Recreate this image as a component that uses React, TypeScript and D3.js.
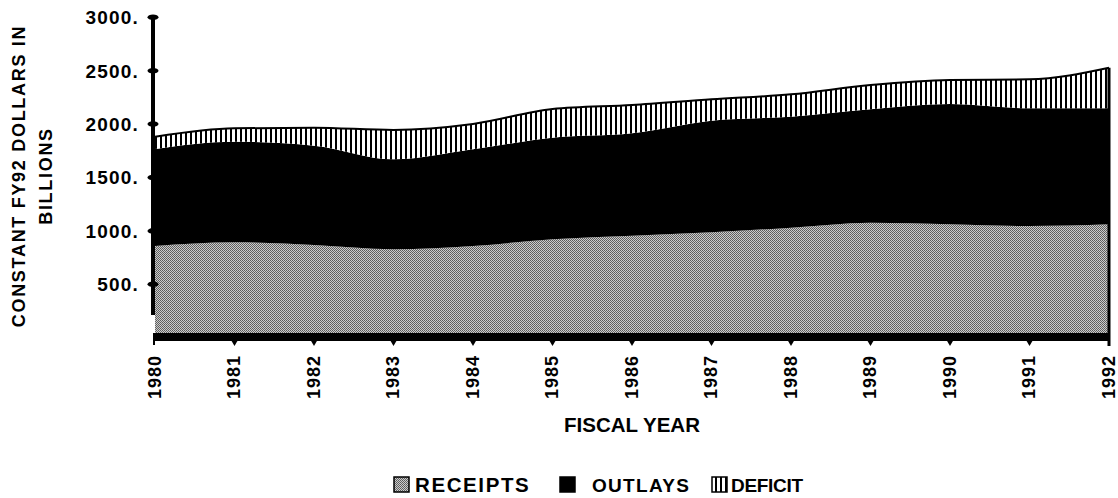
import React from 'react';
import * as d3 from 'd3';

const years = [1980, 1981, 1982, 1983, 1984, 1985, 1986, 1987, 1988, 1989, 1990, 1991, 1992];
const receipts = [859, 893, 868, 828, 859, 921, 955, 987, 1030, 1077, 1062, 1046, 1062];
const outlays = [908, 942, 930, 842, 905, 952, 959, 1045, 1039, 1062, 1126, 1102, 1086];
const deficit = [115, 126, 168, 275, 237, 268, 265, 200, 210, 227, 225, 271, 380];
const yTicks = [3000, 2500, 2000, 1500, 1000, 500];
const seriesKeys = ['receipts', 'outlays', 'deficit'];
const legendLabels = ['RECEIPTS', 'OUTLAYS', 'DEFICIT'];

const W = 1118;
const H = 498;
const FONT = "'Liberation Sans', Arial, Helvetica, sans-serif";

export default function App() {
  const x = d3.scaleLinear().domain([1980, 1992]).range([155, 1109]);
  const y = d3.scaleLinear().domain([0, 3000]).range([337.7, 17.3]);

  const table = years.map((yr, i) => ({
    year: yr,
    receipts: receipts[i],
    outlays: outlays[i],
    deficit: deficit[i],
  }));
  const stacked = d3.stack<any>().keys(seriesKeys)(table);

  const area = d3
    .area<any>()
    .x((d) => x(d.data.year))
    .y0((d) => y(d[0]))
    .y1((d) => y(d[1]))
    .curve(d3.curveMonotoneX);

  const topLine = d3
    .line<any>()
    .x((d) => x(d.data.year))
    .y((d) => y(d[1]))
    .curve(d3.curveMonotoneX);

  const fills = ['url(#recPat)', '#000', 'url(#defPat)'];
  const lastTop = y(stacked[2][stacked[2].length - 1][1]);

  const legendX = [394, 560, 712];
  const legendTextX = [415, 592, 731];
  const legendSpacing = [1.6, 1.3, -0.3];
  const legendSize = [20.5, 19, 19];

  return (
    <svg
      width={W}
      height={H}
      style={{ position: 'absolute', left: 0, top: 0, display: 'block', background: '#fff' }}
    >
      <defs>
        <pattern id="recPat" width="2" height="2" patternUnits="userSpaceOnUse">
          <rect width="2" height="2" fill="#cccccc" />
          <rect x="0" y="0" width="1" height="1" fill="#5a5a5a" />
          <rect x="1" y="1" width="1" height="1" fill="#666666" />
        </pattern>
        <pattern id="defPat" width="5" height="10" patternUnits="userSpaceOnUse">
          <rect width="5" height="10" fill="#fff" />
          <rect x="0" y="0" width="2" height="10" fill="#000" />
        </pattern>
      </defs>

      {stacked.map((s, i) => (
        <path key={seriesKeys[i]} d={area(s) || ''} fill={fills[i]} stroke="none" />
      ))}
      <path d={topLine(stacked[2]) || ''} fill="none" stroke="#000" strokeWidth={2} />
      <line x1={x(1992)} x2={x(1992)} y1={lastTop} y2={346} stroke="#000" strokeWidth={3} />

      {/* x axis band */}
      <rect x={x(1980) - 2} y={333} width={x(1992) - x(1980) + 3} height={8} fill="#000" />
      {years.slice(1, -1).map((yr) => (
        <path
          key={'t' + yr}
          d={`M${x(yr) - 3.5},340 L${x(yr) + 3.5},340 L${x(yr)},346 Z`}
          fill="#000"
        />
      ))}
      <rect x={x(1980) - 2} y={333} width={2} height={12} fill="#000" />

      {/* y axis */}
      <line x1={153} x2={153} y1={y(3000)} y2={315} stroke="#000" strokeWidth={4} />
      {yTicks.map((v) => (
        <g key={'y' + v}>
          <ellipse cx={153} cy={y(v)} rx={5.5} ry={2.8} fill="#000" />
          <text
            x={139}
            y={y(v)}
            dy="0.36em"
            textAnchor="end"
            fontFamily={FONT}
            fontWeight="bold"
            fontSize={19}
            letterSpacing={1.2}
          >
            {v + '.'}
          </text>
        </g>
      ))}

      {/* year labels */}
      {years.map((yr) => (
        <text
          key={'l' + yr}
          transform={`translate(${x(yr)},355) rotate(-90)`}
          dy="0.33em"
          textAnchor="end"
          fontFamily={FONT}
          fontWeight="bold"
          fontSize={18}
          letterSpacing={1}
        >
          {yr}
        </text>
      ))}

      {/* axis titles */}
      <text
        transform="translate(25,176) rotate(-90)"
        textAnchor="middle"
        fontFamily={FONT}
        fontWeight="bold"
        fontSize={18}
        letterSpacing={1.7}
      >
        CONSTANT FY92 DOLLARS IN
      </text>
      <text
        transform="translate(52,176) rotate(-90)"
        textAnchor="middle"
        fontFamily={FONT}
        fontWeight="bold"
        fontSize={18}
        letterSpacing={1.7}
      >
        BILLIONS
      </text>
      <text
        x={632}
        y={432}
        textAnchor="middle"
        fontFamily={FONT}
        fontWeight="bold"
        fontSize={20.5}
      >
        FISCAL YEAR
      </text>

      {/* legend */}
      {legendLabels.map((lab, i) => (
        <g key={lab}>
          <rect
            x={legendX[i]}
            y={477}
            width={15}
            height={15}
            fill={fills[i]}
            stroke="#000"
            strokeWidth={1.5}
          />
          <text
            x={legendTextX[i]}
            y={492}
            fontFamily={FONT}
            fontWeight="bold"
            fontSize={legendSize[i]}
            letterSpacing={legendSpacing[i]}
          >
            {lab}
          </text>
        </g>
      ))}
    </svg>
  );
}
